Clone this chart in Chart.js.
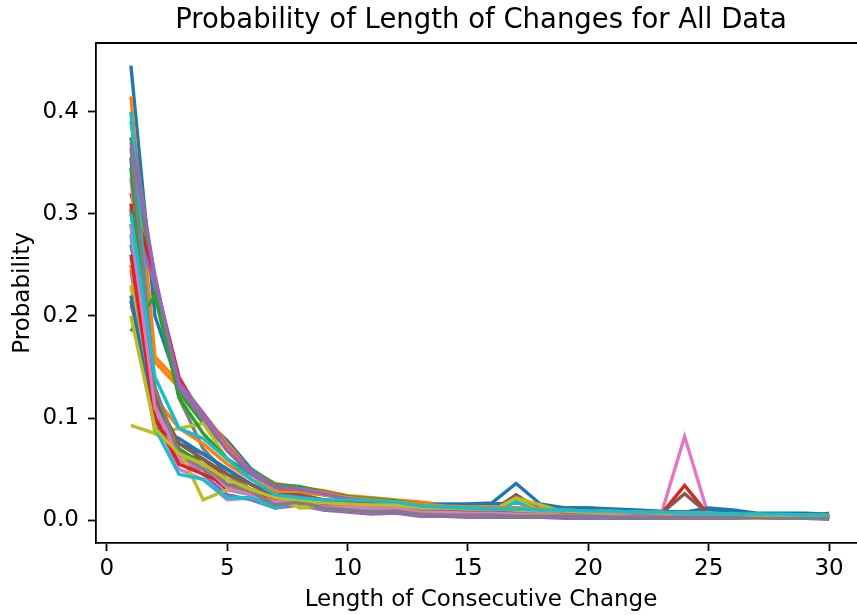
<!DOCTYPE html>
<html>
<head>
<meta charset="utf-8">
<script src="https://cdn.jsdelivr.net/npm/chart.js@4"></script>
<style>
  body { margin: 0; background: #fff; overflow: hidden; }
  canvas { display: block; }
</style>
</head>
<body>
<canvas id="myChart" width="857" height="615"></canvas>
<script>
// run lengths on the x axis
const lengths = [1,2,3,4,5,6,7,8,9,10,11,12,13,14,15,16,17,18,19,20,21,22,23,24,25,26,27,28,29,30];

// one array per file, plotted in this order (colours cycle like matplotlib)
const s0  = [0.445,0.20,0.13,0.10,0.078,0.05,0.034,0.03,0.028,0.022,0.02,0.018,0.015,0.014,0.015,0.016,0.017,0.015,0.012,0.012,0.011,0.01,0.009,0.008,0.009,0.007,0.006,0.006,0.005,0.005];
const s1  = [0.415,0.16,0.135,0.105,0.075,0.048,0.036,0.032,0.029,0.024,0.022,0.02,0.018,0.015,0.014,0.013,0.012,0.011,0.01,0.009,0.009,0.008,0.007,0.007,0.006,0.005,0.005,0.004,0.004,0.004];
const s2  = [0.375,0.225,0.125,0.095,0.07,0.05,0.035,0.033,0.028,0.023,0.021,0.019,0.016,0.014,0.012,0.011,0.01,0.009,0.008,0.008,0.007,0.007,0.006,0.006,0.005,0.005,0.004,0.004,0.004,0.003];
const s3  = [0.32,0.235,0.14,0.1,0.07,0.045,0.03,0.03,0.026,0.02,0.019,0.018,0.014,0.012,0.011,0.01,0.012,0.009,0.008,0.007,0.007,0.006,0.005,0.006,0.005,0.004,0.004,0.004,0.004,0.006];
const s4  = [0.30,0.23,0.135,0.105,0.072,0.048,0.034,0.031,0.027,0.022,0.019,0.017,0.014,0.012,0.011,0.01,0.009,0.008,0.007,0.007,0.006,0.005,0.005,0.005,0.004,0.004,0.003,0.003,0.003,0.003];
const s5  = [0.29,0.12,0.06,0.05,0.032,0.025,0.018,0.022,0.016,0.014,0.012,0.013,0.009,0.008,0.008,0.009,0.025,0.01,0.006,0.006,0.005,0.005,0.004,0.004,0.005,0.003,0.003,0.003,0.003,0.007];
const s6  = [0.335,0.10,0.05,0.04,0.02,0.022,0.012,0.018,0.01,0.01,0.008,0.009,0.006,0.005,0.005,0.005,0.004,0.004,0.004,0.003,0.003,0.003,0.004,0.082,0.004,0.002,0.002,0.002,0.002,0.002];
const s7  = [0.39,0.235,0.12,0.07,0.045,0.03,0.02,0.022,0.017,0.015,0.013,0.014,0.01,0.009,0.008,0.008,0.007,0.006,0.006,0.005,0.005,0.004,0.004,0.004,0.004,0.003,0.003,0.003,0.003,0.003];
const s8  = [0.093,0.085,0.09,0.095,0.06,0.04,0.03,0.012,0.013,0.012,0.01,0.01,0.007,0.006,0.007,0.008,0.02,0.01,0.006,0.006,0.005,0.005,0.004,0.005,0.004,0.003,0.003,0.003,0.003,0.003];
const s9  = [0.40,0.12,0.065,0.05,0.03,0.025,0.014,0.02,0.015,0.013,0.011,0.012,0.008,0.007,0.007,0.007,0.018,0.008,0.006,0.005,0.005,0.004,0.004,0.004,0.004,0.003,0.003,0.003,0.003,0.003];
const s10 = [0.355,0.10,0.075,0.065,0.05,0.035,0.025,0.022,0.02,0.018,0.016,0.015,0.015,0.016,0.016,0.017,0.036,0.016,0.012,0.012,0.01,0.009,0.008,0.008,0.012,0.01,0.007,0.007,0.007,0.006];
const s11 = [0.21,0.155,0.13,0.10,0.07,0.045,0.033,0.03,0.027,0.022,0.02,0.018,0.015,0.013,0.012,0.011,0.01,0.009,0.008,0.008,0.007,0.006,0.006,0.005,0.005,0.004,0.004,0.004,0.003,0.003];
const s12 = [0.185,0.22,0.12,0.085,0.06,0.045,0.033,0.03,0.025,0.021,0.019,0.017,0.014,0.012,0.011,0.01,0.009,0.008,0.007,0.007,0.006,0.006,0.005,0.005,0.005,0.004,0.004,0.004,0.003,0.003];
const s13 = [0.31,0.11,0.06,0.05,0.03,0.028,0.018,0.022,0.016,0.014,0.012,0.013,0.009,0.008,0.007,0.007,0.012,0.006,0.005,0.005,0.004,0.004,0.005,0.034,0.005,0.003,0.003,0.003,0.003,0.006];
const s14 = [0.245,0.10,0.06,0.045,0.025,0.02,0.012,0.015,0.01,0.008,0.006,0.007,0.004,0.004,0.003,0.003,0.003,0.003,0.002,0.002,0.002,0.002,0.002,0.002,0.002,0.002,0.002,0.002,0.002,0.001];
const s15 = [0.215,0.10,0.065,0.06,0.04,0.03,0.02,0.022,0.017,0.015,0.013,0.014,0.01,0.009,0.008,0.008,0.008,0.007,0.006,0.006,0.005,0.005,0.006,0.026,0.006,0.004,0.004,0.004,0.004,0.004];
const s16 = [0.25,0.11,0.06,0.05,0.035,0.025,0.015,0.018,0.012,0.01,0.008,0.01,0.006,0.006,0.005,0.005,0.006,0.005,0.004,0.004,0.003,0.003,0.003,0.003,0.003,0.003,0.002,0.002,0.002,0.002];
const s17 = [0.27,0.13,0.065,0.05,0.032,0.025,0.016,0.02,0.014,0.012,0.01,0.012,0.008,0.007,0.006,0.006,0.005,0.005,0.004,0.004,0.004,0.003,0.003,0.003,0.003,0.003,0.003,0.002,0.002,0.002];
const s18 = [0.23,0.085,0.07,0.02,0.03,0.028,0.02,0.013,0.014,0.012,0.01,0.011,0.008,0.007,0.008,0.009,0.022,0.015,0.008,0.007,0.006,0.006,0.005,0.005,0.005,0.004,0.004,0.004,0.004,0.004];
const s19 = [0.28,0.09,0.045,0.04,0.022,0.022,0.012,0.02,0.012,0.01,0.011,0.011,0.007,0.007,0.006,0.006,0.005,0.005,0.005,0.004,0.004,0.004,0.004,0.004,0.003,0.003,0.003,0.003,0.003,0.003];
const s20 = [0.22,0.09,0.08,0.065,0.05,0.035,0.022,0.025,0.02,0.018,0.016,0.016,0.013,0.012,0.012,0.012,0.011,0.01,0.01,0.01,0.009,0.009,0.008,0.008,0.008,0.007,0.006,0.006,0.006,0.005];
const s21 = [0.25,0.12,0.09,0.075,0.055,0.04,0.028,0.027,0.025,0.022,0.02,0.018,0.016,0.014,0.013,0.012,0.012,0.011,0.01,0.009,0.009,0.008,0.008,0.007,0.007,0.006,0.006,0.005,0.005,0.005];
const s22 = [0.345,0.12,0.07,0.055,0.04,0.03,0.02,0.022,0.017,0.015,0.013,0.013,0.01,0.009,0.008,0.008,0.007,0.007,0.006,0.006,0.005,0.005,0.005,0.004,0.004,0.004,0.004,0.003,0.003,0.003];
const s23 = [0.26,0.1,0.055,0.045,0.035,0.03,0.02,0.02,0.016,0.016,0.016,0.016,0.012,0.011,0.01,0.01,0.009,0.009,0.008,0.007,0.007,0.006,0.006,0.006,0.006,0.005,0.005,0.005,0.005,0.005];
const s24 = [0.37,0.24,0.13,0.1,0.068,0.045,0.032,0.03,0.026,0.021,0.019,0.017,0.014,0.012,0.011,0.01,0.009,0.008,0.008,0.007,0.006,0.006,0.005,0.005,0.005,0.004,0.004,0.004,0.003,0.003];
const s25 = [0.305,0.12,0.075,0.06,0.045,0.035,0.025,0.025,0.02,0.018,0.016,0.015,0.012,0.011,0.01,0.01,0.009,0.008,0.008,0.007,0.007,0.006,0.006,0.006,0.005,0.005,0.005,0.004,0.004,0.004];
const s26 = [0.29,0.11,0.065,0.055,0.032,0.025,0.018,0.02,0.013,0.013,0.012,0.012,0.008,0.008,0.007,0.007,0.006,0.006,0.005,0.005,0.005,0.004,0.004,0.004,0.004,0.003,0.003,0.003,0.003,0.003];
const s27 = [0.365,0.13,0.065,0.055,0.035,0.028,0.015,0.018,0.012,0.01,0.008,0.009,0.006,0.005,0.005,0.005,0.004,0.004,0.004,0.004,0.003,0.003,0.003,0.003,0.003,0.003,0.003,0.003,0.002,0.002];
const s28 = [0.2,0.09,0.065,0.055,0.04,0.03,0.022,0.02,0.017,0.016,0.015,0.015,0.012,0.012,0.011,0.011,0.01,0.009,0.009,0.008,0.008,0.008,0.007,0.007,0.007,0.006,0.005,0.005,0.005,0.005];
const s29 = [0.3,0.14,0.09,0.08,0.06,0.04,0.025,0.022,0.02,0.02,0.019,0.018,0.014,0.013,0.012,0.011,0.011,0.01,0.01,0.009,0.009,0.008,0.008,0.007,0.007,0.006,0.006,0.006,0.005,0.005];

const allSeries = [s0,s1,s2,s3,s4,s5,s6,s7,s8,s9,s10,s11,s12,s13,s14,s15,s16,s17,s18,s19,s20,s21,s22,s23,s24,s25,s26,s27,s28,s29];
const tab10 = ['#1f77b4','#ff7f0e','#2ca02c','#d62728','#9467bd','#8c564b','#e377c2','#7f7f7f','#bcbd22','#17becf'];

const FONT = "'DejaVu Sans', sans-serif";
const TICK_FONT = { family: FONT, size: 23 };

var datasets = allSeries.map(function (vals, i) {
    return {
        data: vals.map((v, k) => ({ x: lengths[k], y: v })),
        borderColor: tab10[i % 10],
        backgroundColor: tab10[i % 10],
        borderWidth: 3.4,
        pointRadius: 0,
        tension: 0,
        fill: false,
        order: allSeries.length - i // later series on top, like matplotlib
    };
});

// title + top spine; the axes run past the right edge of the picture
const framePlugin = {
    id: 'frame',
    afterDraw(chart) {
        const c = chart.ctx, a = chart.chartArea;
        c.save();
        c.strokeStyle = '#000';
        c.lineWidth = 1.8;
        c.beginPath();
        c.moveTo(a.left - 0.9, a.top);
        c.lineTo(chart.width, a.top);
        c.stroke();
        c.fillStyle = '#000';
        c.font = '27.5px ' + FONT;
        c.textAlign = 'center';
        c.textBaseline = 'alphabetic';
        c.fillText('Probability of Length of Changes for All Data', 481, 28);
        c.restore();
    }
};

new Chart(document.getElementById('myChart'), {
    type: 'line',
    data: { datasets: datasets },
    options: {
        responsive: false,
        animation: false,
        devicePixelRatio: 1,
        layout: { padding: { top: 43, right: 0, left: 0, bottom: 0 } },
        plugins: { legend: { display: false }, tooltip: { enabled: false } },
        scales: {
            x: {
                type: 'linear',
                min: -0.45,
                max: 31.16,
                afterFit: s => { s.height = 72; },
                border: { display: true, color: '#000', width: 1.8 },
                grid: { display: true, drawOnChartArea: false, drawTicks: true, tickLength: 8, tickWidth: 1.8, tickColor: '#000' },
                ticks: { stepSize: 5, includeBounds: false, color: '#000', padding: 4, font: TICK_FONT, maxRotation: 0 },
                title: { display: false }
            },
            y: {
                type: 'linear',
                min: -0.02225,
                max: 0.4672,
                afterFit: s => { s.width = 96; },
                border: { display: true, color: '#000', width: 1.8 },
                grid: { display: true, drawOnChartArea: false, drawTicks: true, tickLength: 8, tickWidth: 1.8, tickColor: '#000' },
                ticks: {
                    stepSize: 0.1, includeBounds: false, color: '#000', padding: 9,
                    font: TICK_FONT,
                    callback: v => v.toFixed(1)
                },
                title: { display: true, text: 'Probability', color: '#000', font: TICK_FONT, padding: { top: 9, bottom: 0 } }
            }
        }
    },
    plugins: [framePlugin, {
        id: 'xlabel',
        afterDraw(chart) {
            // x axis label centred on the full axes width (which extends past the picture)
            const c = chart.ctx;
            c.save();
            c.fillStyle = '#000';
            c.font = '23px ' + FONT;
            c.textAlign = 'center';
            c.textBaseline = 'middle';
            c.fillText('Length of Consecutive Change', 481, 600);
            c.restore();
        }
    }]
});
</script>
</body>
</html>
